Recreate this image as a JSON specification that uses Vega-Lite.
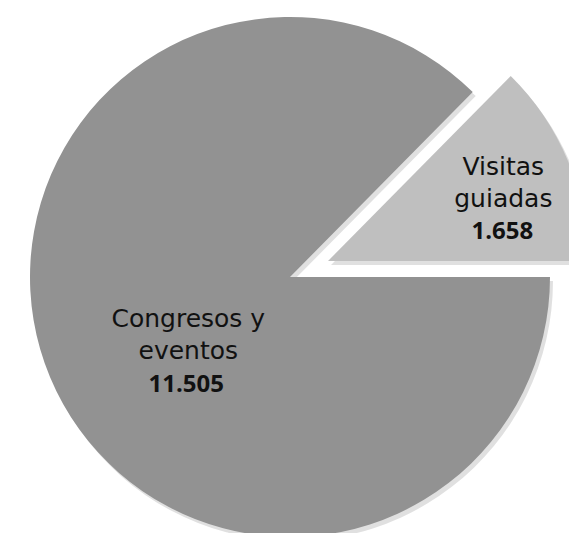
{
  "$schema": "https://vega.github.io/schema/vega-lite/v6.json",
  "autosize": {"type": "none"},
  "width": 558,
  "height": 512,
  "padding": {"left": 11, "top": 21, "right": 0, "bottom": 0},
  "background": "white",
  "data": {
    "values": [
      {"categoria": "Congresos y eventos", "etiqueta": "Congresos y\neventos", "valor": 11505},
      {"categoria": "Visitas guiadas", "etiqueta": "Visitas\nguiadas", "valor": 1658}
    ]
  },
  "encoding": {
    "theta": {
      "field": "valor",
      "type": "quantitative",
      "stack": true,
      "scale": {"range": [1.5708, 7.854]}
    },
    "order": {"field": "categoria", "sort": "ascending"}
  },
  "layer": [
    {
      "mark": {"type": "arc", "radius": 260, "xOffset": 3, "yOffset": 4, "color": "#000000"},
      "encoding": {
        "opacity": {"condition": {"test": "datum.categoria === 'Congresos y eventos'", "value": 0.12}, "value": 0}
      }
    },
    {
      "mark": {"type": "arc", "radius": 260, "xOffset": 41, "yOffset": -12, "color": "#000000"},
      "encoding": {
        "opacity": {"condition": {"test": "datum.categoria === 'Visitas guiadas'", "value": 0.12}, "value": 0}
      }
    },
    {
      "mark": {"type": "arc", "radius": 260},
      "encoding": {
        "color": {
          "field": "categoria",
          "type": "nominal",
          "scale": {"domain": ["Congresos y eventos", "Visitas guiadas"], "range": ["#929292", "#bfbfbf"]},
          "legend": null
        },
        "opacity": {"condition": {"test": "datum.categoria === 'Congresos y eventos'", "value": 1}, "value": 0}
      }
    },
    {
      "mark": {"type": "arc", "radius": 260, "xOffset": 38, "yOffset": -16},
      "encoding": {
        "color": {"field": "categoria", "type": "nominal", "legend": null},
        "opacity": {"condition": {"test": "datum.categoria === 'Visitas guiadas'", "value": 1}, "value": 0}
      }
    },
    {
      "mark": {"type": "text", "radius": 107, "dx": -3, "dy": 9, "baseline": "alphabetic", "align": "center", "font": "DejaVu Sans", "fontSize": 25, "lineBreak": "\n", "lineHeight": 32, "color": "#111111"},
      "encoding": {
        "text": {"condition": {"test": "datum.categoria === 'Congresos y eventos'", "field": "etiqueta"}, "value": ""}
      }
    },
    {
      "mark": {"type": "text", "radius": 107, "dx": -5, "dy": 74, "baseline": "alphabetic", "align": "center", "font": "Open Sans", "fontSize": 24, "fontWeight": "bold", "color": "#111111"},
      "encoding": {
        "text": {"condition": {"test": "datum.categoria === 'Congresos y eventos'", "field": "valor", "format": ",d"}, "value": ""}
      }
    },
    {
      "mark": {"type": "text", "radius": 190, "dx": 38, "dy": -29, "baseline": "alphabetic", "align": "center", "font": "DejaVu Sans", "fontSize": 25, "lineBreak": "\n", "lineHeight": 32, "color": "#111111"},
      "encoding": {
        "text": {"condition": {"test": "datum.categoria === 'Visitas guiadas'", "field": "etiqueta"}, "value": ""}
      }
    },
    {
      "mark": {"type": "text", "radius": 190, "dx": 37, "dy": 35, "baseline": "alphabetic", "align": "center", "font": "Open Sans", "fontSize": 24, "fontWeight": "bold", "color": "#111111"},
      "encoding": {
        "text": {"condition": {"test": "datum.categoria === 'Visitas guiadas'", "field": "valor", "format": ",d"}, "value": ""}
      }
    }
  ],
  "config": {
    "view": {"stroke": null},
    "locale": {
      "number": {"decimal": ",", "thousands": ".", "grouping": [3], "currency": ["", " €"]}
    }
  }
}
